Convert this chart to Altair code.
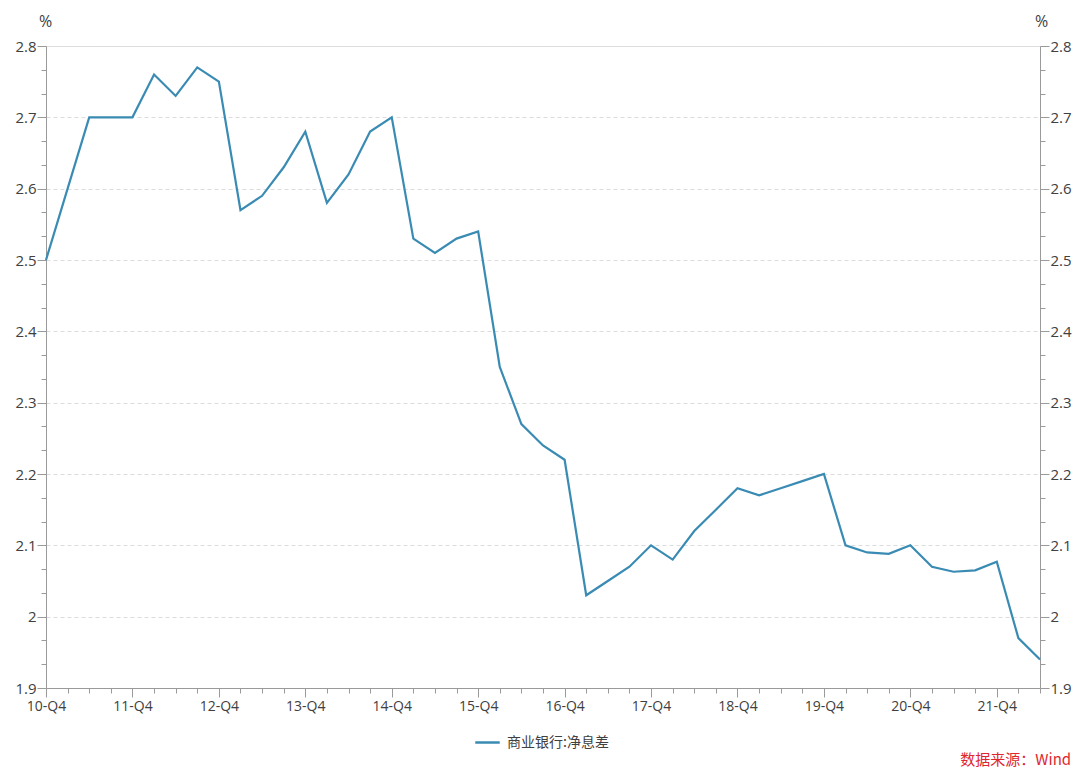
import altair as alt
import pandas as pd

quarters = [
    "10-Q4",
    "11-Q1", "11-Q2", "11-Q3", "11-Q4",
    "12-Q1", "12-Q2", "12-Q3", "12-Q4",
    "13-Q1", "13-Q2", "13-Q3", "13-Q4",
    "14-Q1", "14-Q2", "14-Q3", "14-Q4",
    "15-Q1", "15-Q2", "15-Q3", "15-Q4",
    "16-Q1", "16-Q2", "16-Q3", "16-Q4",
    "17-Q1", "17-Q2", "17-Q3", "17-Q4",
    "18-Q1", "18-Q2", "18-Q3", "18-Q4",
    "19-Q1", "19-Q2", "19-Q3", "19-Q4",
    "20-Q1", "20-Q2", "20-Q3", "20-Q4",
    "21-Q1", "21-Q2", "21-Q3", "21-Q4",
    "22-Q1", "22-Q2",
]
nim = [
    2.50,
    2.60, 2.70, 2.70, 2.70,
    2.76, 2.73, 2.77, 2.75,
    2.57, 2.59, 2.63, 2.68,
    2.58, 2.62, 2.68, 2.70,
    2.53, 2.51, 2.53, 2.54,
    2.35, 2.27, 2.24, 2.22,
    2.03, 2.05, 2.07, 2.10,
    2.08, 2.12, 2.15, 2.18,
    2.17, 2.18, 2.19, 2.20,
    2.10, 2.09, 2.088, 2.10,
    2.07, 2.063, 2.065, 2.077,
    1.97, 1.94,
]
series_name = "商业银行:净息差"
source_text = "数据来源：Wind"
line_color = "#3a8bb3"
y_domain = [1.9, 2.8]
y_tick_values = [round(1.9 + k / 30, 4) for k in range(28)]

df = pd.DataFrame({"quarter": quarters, "nim": nim, "series": series_name})

axis_font = "Open Sans"
cjk_font = "Noto Sans CJK SC"
gray = "#9a9a9a"
text_col = "#404040"
major = "abs(datum.value*10 - round(datum.value*10)) < 0.001"


def y_axis(orient):
    return alt.Axis(
        orient=orient,
        values=y_tick_values,
        title="%",
        titleAngle=0,
        titleAlign="center",
        titleBaseline="alphabetic",
        titleX=-1 if orient == "left" else 1,
        titleY=-20,
        titleFont=axis_font,
        titleFontWeight="normal",
        titleFontSize=16,
        titleColor=text_col,
        labelExpr=f"{major} ? toString(round(datum.value*10)/10) : ''",
        labelFont=axis_font,
        labelFontSize=15,
        labelColor=text_col,
        labelPadding=1,
        tickSize={"condition": {"test": major, "value": 9}, "value": 5},
        tickColor=gray,
        domainColor=gray,
        grid=(orient == "left"),
        gridOpacity={"condition": {"test": major, "value": 1}, "value": 0},
        gridDash=[4, 3],
        gridColor="#dcdcdc",
    )


x_enc = alt.X(
    "quarter:N",
    sort=None,
    scale=alt.Scale(type="point", padding=0),
    axis=alt.Axis(
        title=None,
        labelAngle=0,
        labelExpr="indexof(datum.label, 'Q4') >= 0 ? datum.label : ''",
        labelFont=axis_font,
        labelFontSize=14,
        labelColor=text_col,
        labelPadding=2,
        tickSize={"condition": {"test": "indexof(datum.value, 'Q4') >= 0", "value": 9}, "value": 5},
        tickColor=gray,
        domainColor=gray,
        grid=False,
    ),
)

left = alt.Chart(df).mark_line(strokeWidth=2.2).encode(
    x=x_enc,
    y=alt.Y("nim:Q", scale=alt.Scale(domain=y_domain, nice=False, zero=False), axis=y_axis("left")),
    color=alt.Color(
        "series:N",
        scale=alt.Scale(range=[line_color]),
        legend=alt.Legend(
            title=None,
            orient="none",
            legendX=428,
            legendY=683,
            symbolType="stroke",
            symbolSize=600,
            symbolStrokeWidth=2.5,
            labelFont=cjk_font,
            labelFontSize=14,
            labelColor=text_col,
            labelOffset=6,
        ),
    ),
)

right = alt.Chart(df).mark_line(strokeOpacity=0).encode(
    x=x_enc,
    y=alt.Y("nim:Q", scale=alt.Scale(domain=y_domain, nice=False, zero=False), axis=y_axis("right")),
)

chart = (
    alt.layer(left, right)
    .resolve_scale(y="independent")
    .properties(
        width=994,
        height=642,
        autosize=alt.AutoSizeParams(type="none"),
        padding={"left": 38, "top": 38, "right": 32, "bottom": 82},
        title=alt.TitleParams(
            source_text,
            orient="bottom",
            anchor="end",
            color="#e0262f",
            font=cjk_font,
            fontSize=15,
            fontWeight="normal",
            offset=3,
        ),
    )
    .configure_view(stroke=None)
    .configure(background="white")
)

chart.save("out.html", embed_options={"renderer": "svg", "actions": False})
